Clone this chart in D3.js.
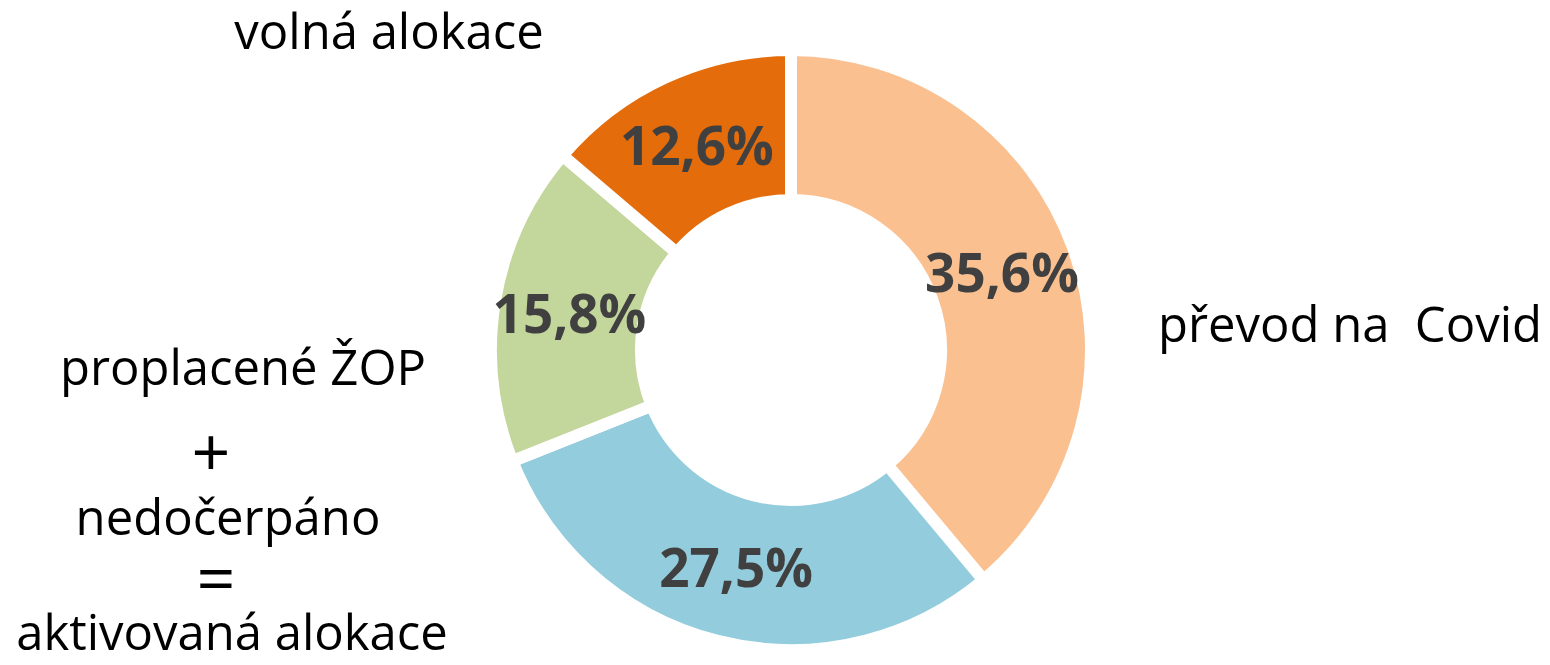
<!DOCTYPE html>
<html>
<head>
<meta charset="utf-8">
<script src="https://cdn.jsdelivr.net/npm/d3@7"></script>
<style>
  body { margin: 0; background: #fff; }
  svg text { font-family: "Open Sans", sans-serif; }
</style>
</head>
<body>
<div id="chart"></div>
<script>
// data, clockwise from 12 o'clock
const categories = ["převod na  Covid", "aktivovaná alokace", "proplacené ŽOP", "volná alokace"];
const shares = [35.6, 27.5, 15.8, 12.6];
const shareLabels = ["35,6%", "27,5%", "15,8%", "12,6%"];
const colors = ["#FAC090", "#93CDDD", "#C3D69B", "#E46C0A"];

const width = 1550, height = 665;
const cx = 791, cy = 350;

const svg = d3.select("#chart").append("svg")
    .attr("width", width)
    .attr("height", height);

const g = svg.append("g")
    .attr("transform", `translate(${cx},${cy})`);

const pie = d3.pie().sort(null).value(d => d.value);
const arc = d3.arc().innerRadius(150).outerRadius(300);
const labelArc = d3.arc().innerRadius(155).outerRadius(294);

const slices = pie(categories.map((c, i) => ({ name: c, value: shares[i], label: shareLabels[i] })));

g.selectAll("path.slice")
  .data(slices)
  .enter().append("path")
    .attr("class", "slice")
    .attr("d", arc)
    .attr("fill", (d, i) => colors[i])
    .attr("stroke", "#fff")
    .attr("stroke-width", 12)
    .attr("stroke-linejoin", "miter");

// percentages inside slices
g.selectAll("text.pct")
  .data(slices)
  .enter().append("text")
    .attr("class", "pct")
    .attr("x", d => labelArc.centroid(d)[0])
    .attr("y", d => labelArc.centroid(d)[1] + 19)
    .attr("text-anchor", "middle")
    .attr("font-size", 53)
    .attr("font-weight", 700)
    .attr("fill", "#404040")
    .text(d => d.data.label);

// outside category labels
const outside = [
  { text: "volná alokace", x: 389, y: 49, size: 49 },
  { text: "převod na  Covid", x: 1350, y: 342, size: 49 },
  { text: "proplacené ŽOP", x: 243, y: 385, size: 49 },
  { text: "+", x: 211, y: 477, size: 68 },
  { text: "nedočerpáno", x: 228, y: 535, size: 49 },
  { text: "=", x: 216, y: 603, size: 68 },
  { text: "aktivovaná alokace", x: 232, y: 650, size: 49 }
];

svg.selectAll("text.cat")
  .data(outside)
  .enter().append("text")
    .attr("class", "cat")
    .attr("x", d => d.x)
    .attr("y", d => d.y)
    .attr("text-anchor", "middle")
    .attr("font-size", d => d.size)
    .attr("fill", "#000")
    .style("white-space", "pre")
    .text(d => d.text);
</script>
</body>
</html>
